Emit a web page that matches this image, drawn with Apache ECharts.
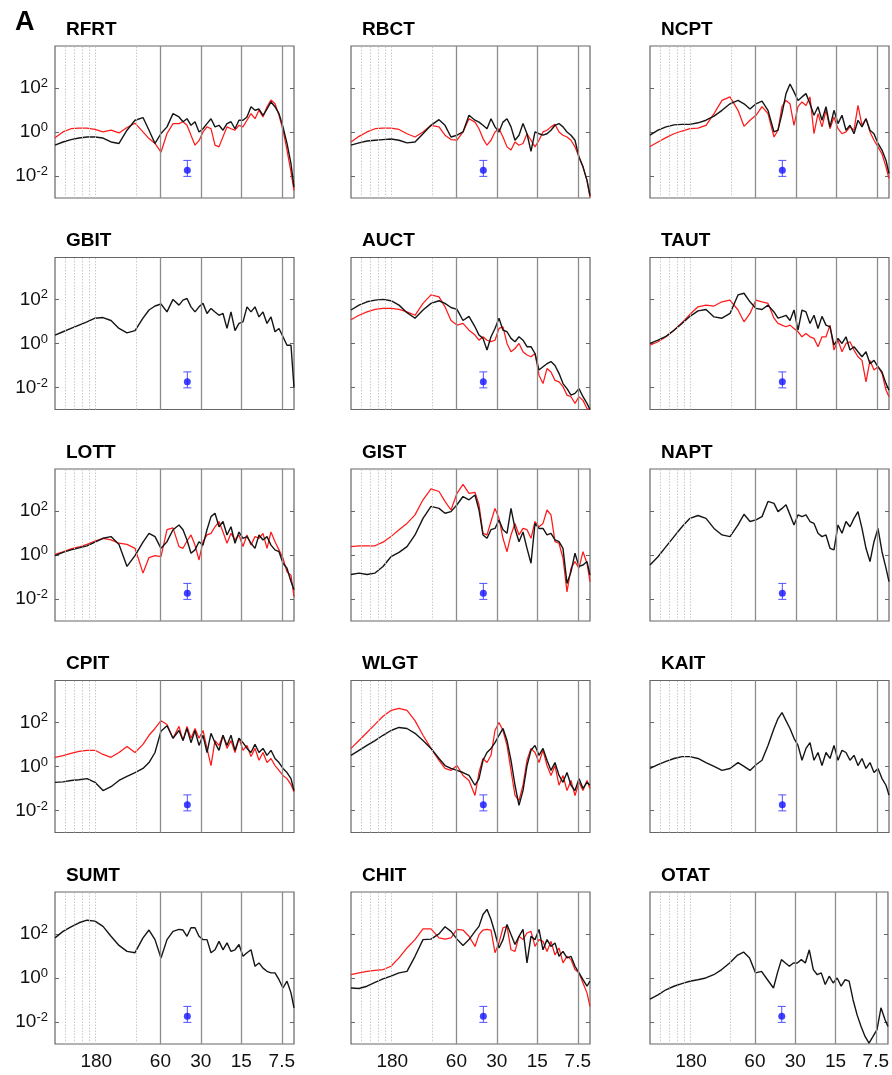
<!DOCTYPE html>
<html><head><meta charset="utf-8">
<script src="https://cdn.jsdelivr.net/npm/echarts@6/dist/echarts.min.js"></script>
<style>html,body{margin:0;padding:0;background:#fff}#c{width:892px;height:1075px}</style>
</head><body><div id="c"></div>
<script>
// frequency grid in cycles per year (period = 365 / f days)
const FREQ = [1, 1.147, 1.315, 1.509, 1.730, 1.984, 2.276, 2.610, 2.994, 3.433, 3.938, 4.516,
  5.005, 5.546, 6.146, 6.812, 7.549, 8.367,
  8.960, 9.596, 10.276, 11.005, 11.786, 12.621, 13.516, 14.475, 15.502, 16.601,
  17.779, 19.040, 20.390, 21.836, 23.385, 25.043, 26.819, 28.721, 30.758, 32.939,
  35.275, 37.777, 40.456, 43.325, 46.398, 49.688, 53.212, 56.986, 60];

const RFRT_BLACK = [0.25,0.35,0.45,0.53,0.59,0.59,0.53,0.35,0.3,1.2,3.4,4.5, 1.2,0.3,0.85,1.7,6.8,4.8,
  2.9,4,2.0,2.9,1.0,1.4,2.4,4,1.7,2.0, 1.2,2.4,2.9,1.4,3.4,3.4,4.8,14,9.7,11, 5.7,11,23,14,6.8,1.7,0.3,0.036,0.0031];
const RFRT_RED = [0.55,1.0,1.4,1.5,1.5,1.3,1.0,1.2,0.9,1.6,2.5,1.0, 0.5,0.3,0.12,0.85,2.4,2.4,
  2.9,2.0,0.7,0.25,0.4,1.0,1.7,1.4,0.25,0.21, 0.6,1.7,1.4,1.2,2.0,1.7,3.4,6.8,4,9.7, 4.8,14,28,19,5.7,1.2,0.15,0.015,0.0022];
const RBCT_BLACK = [0.25,0.32,0.39,0.42,0.45,0.48,0.42,0.32,0.35,0.83,2.0,3.6, 2.0,0.59,0.71,1.0,5.7,3.4,
  2.8,2.0,1.4,4.0,1.7,1.0,2.8,4.0,1.7,0.42, 0.71,2.4,0.83,0.13,1.0,0.83,0.71,0.83,1.2,2.0, 2.4,1.7,1.0,0.71,0.42,0.072,0.026,0.0063,0.0013];
const RBCT_RED = [0.35,0.63,1.0,1.4,1.5,1.5,1.3,0.83,0.59,1.0,2.0,1.7, 0.71,0.45,0.42,1.0,4,2.8,
  1.4,0.5,0.25,0.42,1.0,1.4,0.59,0.21,0.15,0.35, 0.25,0.3,0.83,0.42,0.21,0.42,1.0,1.2,1.7,2.2, 1.0,0.71,0.59,0.42,0.21,0.072,0.026,0.0063,0.0011];
const NCPT_BLACK = [0.71,1.2,1.7,2.1,2.2,2.2,2.6,3.4,5.2,9.6,19,27, 19,11,19,25,9.6,1.0,
  1.2,6.8,55,150,66,27,39,55,19,5.7, 14,3.4,14,1.7,9.6,2.4,5.7,1.2,2.0,0.83, 3.4,1.7,4.0,1.2,0.83,0.3,0.15,0.051,0.013];
const NCPT_RED = [0.22,0.35,0.55,0.83,1.1,1.4,1.5,2.0,6.8,27,39,9.6, 1.8,3.4,5.7,14,6.8,0.59,
  1.2,14,27,19,2.0,14,23,16,39,0.83, 6.8,1.7,9.6,1.4,4.8,1.4,0.83,1.0,1.7,1.2, 16,2.0,4.0,1.0,0.42,0.21,0.1,0.026,0.0077];
const GBIT_BLACK = [2.4,3.4,4.8,6.8,9.6,14,15,11,4.8,3.0,3.8,14, 33,50,62,27,100,55,
  93,110,46,27,46,66,23,39,27,19, 23,4.8,27,3.8,8.1,9.6,46,27,46,16, 27,8.1,16,3.4,4.8,2.0,0.83,0.83,0.01];
const AUCT_BLACK = [33,55,78,93,100,87,55,25,14,33,66,87, 66,43,35,11,17,5.7,
  2.4,1.7,0.5,2.0,4.8,14,4.0,3.4,1.7,1.2, 2.0,1.4,0.71,0.71,0.35,0.062,0.087,0.12,0.15,0.1, 0.044,0.015,0.0089,0.0045,0.0054,0.0089,0.0038,0.0019,0.001];
const AUCT_RED = [12,19,27,35,39,39,35,27,19,66,160,130, 46,11,6.8,8.1,4.0,2.4,
  1.4,2.0,1.4,1.2,1.4,4.8,5.7,1.0,0.42,0.59, 1.0,0.42,0.3,0.25,0.35,0.036,0.015,0.072,0.051,0.021, 0.018,0.011,0.0045,0.0038,0.0019,0.0038,0.0026,0.0011,0.001];
const TAUT_BLACK = [1.0,1.4,2.1,4.0,8.1,17,30,35,16,14,23,160, 190,78,39,35,55,27,
  14,16,19,11,33,4.0,33,27,8.1,19, 4.8,17,6.8,5.7,0.83,1.7,1.0,2.0,0.5,0.71, 0.42,0.25,0.42,0.12,0.17,0.087,0.051,0.015,0.0076];
const TAUT_RED = [0.83,1.2,2.0,4.0,8.7,21,46,55,50,78,93,33, 9.6,23,93,78,66,14,
  8.1,6.8,5.7,6.8,4.8,3.4,2.0,2.8,2.0,1.7, 0.71,2.0,2.0,6.8,0.5,1.4,0.42,1.0,1.2,0.5, 0.25,0.17,0.018,0.17,0.062,0.087,0.044,0.0076,0.0038];
const LOTT_BLACK = [0.93,1.3,1.7,2.1,2.6,3.8,5.7,6.8,3.0,0.3,0.93,3.8, 9.6,6.8,2.0,4.0,14,23,
  14,4.8,1.2,1.7,4.0,2.8,14,55,78,19, 33,8.1,19,3.4,11,5.7,6.8,3.4,2.0,8.1, 4.8,6.8,2.8,1.7,1.4,0.42,0.25,0.062,0.026];
const LOTT_RED = [1.07,1.4,1.9,2.3,3.0,4.3,5.7,4.8,3.4,3.0,2.0,0.15, 0.76,0.93,0.83,14,17,2.4,
  2.0,4.3,8.1,2.8,0.59,4.0,8.1,9.6,19,33, 11,3.4,9.6,4.8,8.1,2.4,8.1,2.8,6.8,5.7, 9.6,2.0,11,4.0,1.7,0.71,0.17,0.12,0.013];
const GIST_BLACK = [0.13,0.15,0.13,0.15,0.3,0.83,1.3,2.4,8.1,46,160,130, 78,93,190,450,320,530,
  110,8.1,5.7,14,16,39,14,9.6,130,16, 4.0,11,2.0,0.42,27,16,16,8.1,9.6,4.8, 4.0,2.0,0.051,0.17,1.2,0.3,0.35,0.5,0.12];
const GIST_RED = [2.4,2.6,2.6,2.6,3.8,6.8,14,27,66,320,1000,760, 270,110,630,1600,630,700,
  190,9.6,8.1,33,130,46,5.7,1.4,8.1,27, 8.1,16,14,5.7,33,19,27,110,66,4.0, 3.4,0.71,0.021,0.25,0.5,0.25,1.4,0.42,0.062];
const NAPT_BLACK = [0.35,0.83,2.4,6.8,19,46,62,46,16,8.1,6.8,23, 70,33,39,55,270,220,
  93,130,190,66,23,66,55,66,33,27, 9.6,6.8,8.1,2.0,1.7,23,9.6,33,19,46, 93,16,2.0,0.5,4.0,16,1.4,0.25,0.062];
const CPIT_BLACK = [0.19,0.2,0.23,0.25,0.28,0.19,0.08,0.12,0.23,0.35,0.53,0.81, 1.5,4.3,40,70,19,43,
  15,53,12,43,9,26,4.3,32,12,5.4, 26,9,26,5.4,19,12,6.6,4.3,10,4.3, 6.6,3.2,5.4,2.3,1.5,0.81,0.53,0.28,0.08];
const CPIT_RED = [2.6,3.1,3.9,4.8,5.4,5.4,3.5,2.6,4.3,8.1,4.3,10, 26,53,120,81,19,66,
  15,66,19,53,19,43,6.6,1.1,15,9, 26,6.6,15,4.3,19,5.4,9,2.8,6.6,1.9, 4.3,1.5,2.3,1.1,0.66,0.39,0.28,0.15,0.07];
const WLGT_BLACK = [3.2,5.4,9,15,26,43,59,53,32,15,6.6,2.3, 1.1,0.81,0.66,0.53,0.39,0.14,
  0.28,1.9,4.3,6.6,12,26,53,15,1.9,0.14, 0.017,0.08,1.1,5.4,9,3.2,6.6,1.9,0.66,1.5, 0.39,0.19,0.53,0.14,0.08,0.28,0.1,0.19,0.14];
const WLGT_RED = [6.6,15,35,81,190,350,430,350,120,26,6.6,1.9, 0.81,0.66,1.1,0.39,0.23,0.048,
  0.53,2.3,1.5,3.2,43,100,43,9,0.66,0.048, 0.028,0.14,1.9,6.6,4.3,1.5,5.4,1.1,0.39,1.1, 0.14,0.39,0.08,0.23,0.048,0.19,0.08,0.23,0.1];
const KAIT_BLACK = [0.81,1.2,1.7,2.3,2.8,2.8,2.3,1.5,1.0,0.66,0.81,1.5, 1.0,0.66,1.2,1.9,9,53,
  150,280,120,53,19,9,1.9,6.6,12,1.9, 4.3,1.1,4.3,2.3,9,1.9,5.4,4.3,1.9,3.2, 1.1,2.3,0.81,1.5,0.53,0.81,0.28,0.14,0.05];
const SUMT_BLACK = [66,130,210,320,420,380,220,78,30,16,14,66, 150,55,8.1,55,130,160,
  150,78,190,190,78,55,55,14,19,46, 19,39,16,19,33,9.6,14,19,3.4,4.8, 2.8,2.0,1.7,1.7,0.83,0.35,0.71,0.21,0.044];
const CHIT_BLACK = [0.35,0.33,0.42,0.63,0.9,1.2,1.7,2.0,9.6,55,58,100, 210,130,58,30,55,130,
  220,760,1300,450,110,23,55,270,93,33, 78,160,4.8,78,55,160,19,55,27,39, 9.6,16,8.1,9.6,3.4,1.7,0.83,0.42,0.71];
const CHIT_RED = [1.4,1.7,2.0,2.2,2.4,3.4,8.1,23,55,170,170,66, 58,66,160,150,78,27,
  93,150,160,150,14,39,190,220,19,16, 78,55,110,130,27,55,46,16,46,11, 23,4.8,9.6,6.8,2.4,1.7,0.59,0.21,0.051];
const OTAT_BLACK = [0.11,0.17,0.29,0.42,0.55,0.71,0.83,1.0,1.4,2.4,4.8,11, 15,8.1,1.7,2.0,0.83,0.35,
  1.7,6.8,4.8,3.4,4.8,4.8,6.8,4.8,19,2.4, 1.4,1.7,0.5,1.2,0.59,1.0,0.42,0.83,0.71,0.1, 0.021,0.0063,0.0022,0.0011,0.0022,0.0045,0.044,0.013,0.0063];

const PANEL_NAMES = ['RFRT','RBCT','NCPT','GBIT','AUCT','TAUT','LOTT','GIST','NAPT','CPIT','WLGT','KAIT','SUMT','CHIT','OTAT'];
const PANEL_BLACK = [RFRT_BLACK,RBCT_BLACK,NCPT_BLACK,GBIT_BLACK,AUCT_BLACK,TAUT_BLACK,LOTT_BLACK,GIST_BLACK,NAPT_BLACK,CPIT_BLACK,WLGT_BLACK,KAIT_BLACK,SUMT_BLACK,CHIT_BLACK,OTAT_BLACK];
const PANEL_RED = [RFRT_RED,RBCT_RED,NCPT_RED,null,AUCT_RED,TAUT_RED,LOTT_RED,GIST_RED,null,CPIT_RED,WLGT_RED,null,null,CHIT_RED,null];

// axis ticks
const DAYS_PER_YEAR = 365;
const X_TICK_PERIODS = [180, 60, 30, 15, 7.5];
const X_TICK_LABELS = ['180', '60', '30', '15', '7.5'];
const SOLID_PERIODS = [60, 30, 15, 7.5];
const DOTTED_FREQ = [1.2, 1.4, 1.6, 1.8, 2, 4];
const Y_TICKS = [0.01, 1, 100];
const Y_TICK_EXP = ['-2', '0', '2'];
const Y_MIN = 0.001, Y_MAX = 8000;
const X_MIN = 1, X_MAX = 60;

// error bar (same in every panel)
const ERR_F = 9.65, ERR_MID = 0.018, ERR_LO = 0.0096, ERR_HI = 0.051;

const FONT = '"Liberation Sans", Arial, Helvetica, sans-serif';
const COL_LEFT = [55, 351, 650];
const ROW_TOP = [46, 257.5, 469, 680.5, 892];
const PW = 239, PH = 152;
const FRAME = '#666666';

const X_TICK_F = X_TICK_PERIODS.map(p => DAYS_PER_YEAR / p);
const SOLID_F = SOLID_PERIODS.map(p => DAYS_PER_YEAR / p);

const grids = [], xAxes = [], yAxes = [], series = [];
const titles = [{ text: 'A', left: 15, top: 9, padding: 0,
  textStyle: { fontFamily: FONT, fontSize: 27, fontWeight: 'bold', color: '#000' } }];

PANEL_NAMES.forEach((name, i) => {
  const r = Math.floor(i / 3), c = i % 3;
  grids.push({ left: COL_LEFT[c], top: ROW_TOP[r], width: PW, height: PH, show: true,
    borderColor: FRAME, borderWidth: 1.2, backgroundColor: 'rgba(0,0,0,0)' });
  titles.push({ text: name, left: COL_LEFT[c] + 11, top: ROW_TOP[r] - 26, padding: 0,
    textStyle: { fontFamily: FONT, fontSize: 19, fontWeight: 'bold', color: '#000' } });
  xAxes.push({ type: 'log', logBase: 10, gridIndex: i, min: X_MIN, max: X_MAX,
    axisLine: { show: false }, axisTick: { show: false }, splitLine: { show: false },
    axisLabel: { show: r === 4, customValues: X_TICK_F, margin: 8, fontFamily: FONT, fontSize: 19, color: '#111',
      formatter: v => { const k = X_TICK_F.findIndex(f => Math.abs(f - v) / f < 1e-3); return k >= 0 ? X_TICK_LABELS[k] : ''; } } });
  const yBase = { type: 'log', logBase: 10, gridIndex: i, min: Y_MIN, max: Y_MAX,
    axisLine: { show: false }, splitLine: { show: false },
    axisTick: { show: true, inside: true, length: 4, customValues: Y_TICKS, lineStyle: { color: FRAME, width: 1 } } };
  yAxes.push(Object.assign({}, yBase, { position: 'left',
    axisLabel: { show: c === 0, customValues: Y_TICKS, margin: 7,
      formatter: v => { const k = Y_TICKS.findIndex(t => Math.abs(t - v) / t < 1e-3); return k >= 0 ? '{b|10}{s|' + Y_TICK_EXP[k] + '}' : ''; },
      rich: { b: { fontFamily: FONT, fontSize: 19, color: '#111', lineHeight: 22 },
              s: { fontFamily: FONT, fontSize: 13, color: '#111', lineHeight: 16, verticalAlign: 'top' } } } }));
  yAxes.push(Object.assign({}, yBase, { position: 'right', axisLabel: { show: false } }));
  const yi = 2 * i;
  series.push({ type: 'line', xAxisIndex: i, yAxisIndex: yi, data: [[X_MIN, 1]], symbol: 'none', lineStyle: { opacity: 0 },
    silent: true, z: 1, animation: false,
    markLine: { silent: true, symbol: ['none', 'none'], label: { show: false }, animation: false,
      data: DOTTED_FREQ.map(f => ({ xAxis: f, lineStyle: { color: '#c4c4c4', width: 0.9, type: [1.5, 1.5] } }))
        .concat(SOLID_F.map(f => ({ xAxis: f, lineStyle: { color: '#8c8c8c', width: 1.3, type: 'solid' } }))) } });
  if (PANEL_RED[i]) {
    series.push({ type: 'line', xAxisIndex: i, yAxisIndex: yi, z: 3, symbol: 'none', animation: false,
      data: FREQ.map((f, k) => [f, PANEL_RED[i][k]]), lineStyle: { color: '#ff1a1a', width: 1.25 } });
  }
  series.push({ type: 'line', xAxisIndex: i, yAxisIndex: yi, z: 4, symbol: 'none', animation: false,
    data: FREQ.map((f, k) => [f, PANEL_BLACK[i][k]]), lineStyle: { color: '#151515', width: 1.4 } });
  series.push({ type: 'custom', xAxisIndex: i, yAxisIndex: yi, z: 5, animation: false, silent: true,
    data: [[ERR_F, ERR_LO, ERR_HI]], encode: { x: 0, y: [1, 2] },
    renderItem: (params, api) => {
      const lo = api.coord([api.value(0), api.value(1)]);
      const hi = api.coord([api.value(0), api.value(2)]);
      const st = { stroke: '#4f4fff', lineWidth: 1 };
      return { type: 'group', children: [
        { type: 'line', shape: { x1: lo[0], y1: lo[1], x2: hi[0], y2: hi[1] }, style: st },
        { type: 'line', shape: { x1: lo[0] - 4, y1: lo[1], x2: lo[0] + 4, y2: lo[1] }, style: st },
        { type: 'line', shape: { x1: hi[0] - 4, y1: hi[1], x2: hi[0] + 4, y2: hi[1] }, style: st } ] };
    } });
  series.push({ type: 'scatter', xAxisIndex: i, yAxisIndex: yi, z: 6, animation: false, silent: true,
    data: [[ERR_F, ERR_MID]], symbol: 'circle', symbolSize: 7, itemStyle: { color: '#1414ff' } });
});

const chart = echarts.init(document.getElementById('c'), null, { renderer: 'canvas' });
chart.setOption({ backgroundColor: '#fff', animation: false, title: titles, grid: grids, xAxis: xAxes, yAxis: yAxes, series: series });
</script></body></html>
